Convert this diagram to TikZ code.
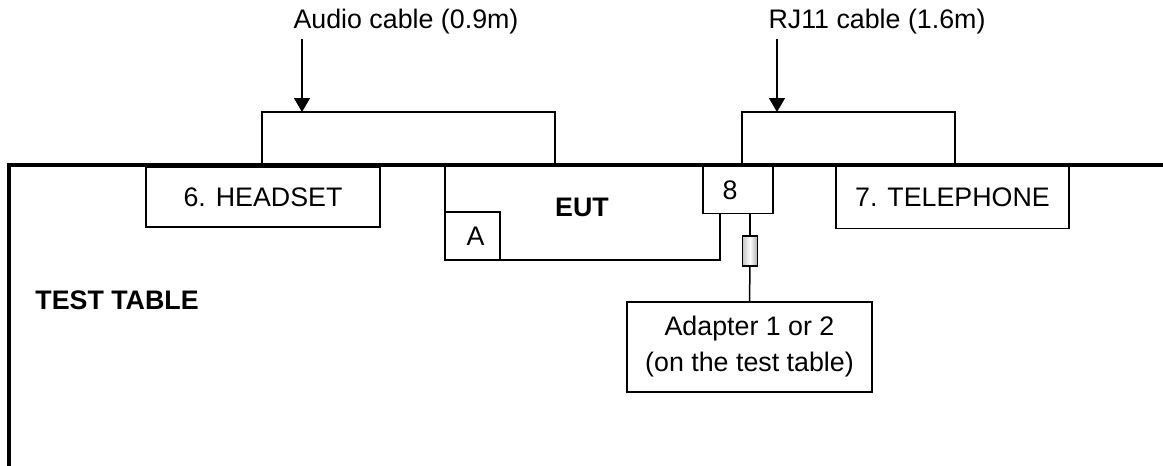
\documentclass[tikz,border=0pt]{standalone}
\usepackage{fontspec}
\setmainfont{Liberation Sans}
\usetikzlibrary{arrows.meta}
\begin{document}
\begin{tikzpicture}[x=0.5pt,y=-0.5pt,
  thin line/.style={line width=0.75pt},
  box/.style={draw,thin line,rectangle,fill=white,inner sep=0pt,outer sep=0pt,font=\fontsize{13.4}{18}\selectfont},
  lbl/.style={inner sep=0pt,font=\fontsize{13.4}{18}\selectfont},
  cable/.style={thin line},
  pointer/.style={thin line,-{Triangle[length=7pt,width=8pt]}}]
\useasboundingbox (0,0) rectangle (1163,466);
% test table
\draw[line width=2pt] (9,466) -- (9,165) -- (1163,165);
\node[lbl,font=\fontsize{13.4}{18}\selectfont\bfseries,anchor=west] (tt) at (35,300) {TEST TABLE};
% devices
\node[box,minimum width=117pt,minimum height=30pt] (headset) at (263,197) {6. HEADSET};
\node[box,minimum width=116.5pt,minimum height=31pt] (phone) at (952.5,197.5) {7. TELEPHONE};
\node[box,minimum width=137.5pt,minimum height=47pt] (eut) at (582.5,213) {};
\node[lbl,font=\fontsize{13.4}{18}\selectfont\bfseries] (euttext) at (582,207) {EUT};
\node[box,minimum width=35pt,minimum height=23.5pt] (p8) at (738,190) {\raisebox{-1.5pt}{\hspace*{-8pt}8}};
\node[box,minimum width=27.5pt,minimum height=24pt] (pa) at (472.5,236) {\raisebox{-1pt}{\hspace*{3pt}A}};
\node[draw,thin line,inner sep=0pt,outer sep=0pt,minimum width=7.5pt,minimum height=15pt,
      left color=gray!45,right color=gray!65,middle color=white] (res) at (750,251) {};
\node[box,minimum width=122.5pt,minimum height=45pt,align=center] (adapter) at (749.5,347)
  {Adapter 1 or 2\\(on the test table)};
% connections to adapter
\draw[cable] (p8.south -| res.north) -- (res.north);
\draw[cable] (res.south) -- (adapter.north);
% audio cable bracket
\coordinate (a1) at (262,112);
\coordinate (a2) at (555,112);
\draw[cable] (headset.north -| a1) -- (a1) -- (a2) -- (eut.north -| a2);
% RJ11 bracket
\coordinate (r1) at (742,112);
\coordinate (r2) at (955,112);
\draw[cable] (p8.north -| r1) -- (r1) -- (r2) -- (phone.north -| r2);
% labels & pointers
\node[lbl] (audio) at (406,22) {Audio cable (0.9m)};
\node[lbl] (rj11) at (877,22) {RJ11 cable (1.6m)};
\coordinate (ap) at (302,112);
\coordinate (rp) at (777,112);
\draw[pointer] (audio.south -| ap) ++(0,4) -- (ap);
\draw[pointer] (rj11.south -| rp) ++(0,4) -- (rp);
\end{tikzpicture}
\end{document}
